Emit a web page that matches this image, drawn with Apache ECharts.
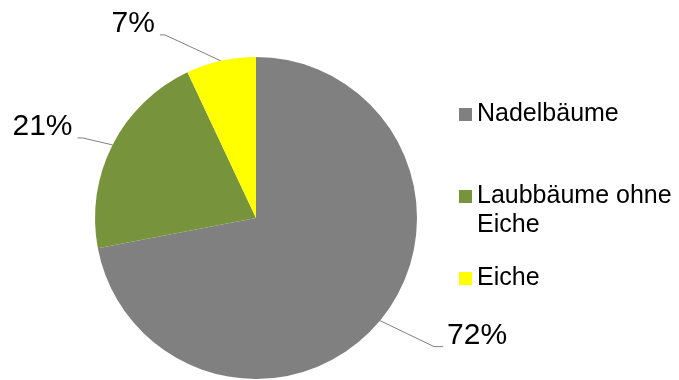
<!DOCTYPE html>
<html>
<head>
<meta charset="utf-8">
<script src="https://cdn.jsdelivr.net/npm/echarts@6/dist/echarts.min.js"></script>
<style>
  html, body { margin: 0; padding: 0; background: #fff; }
  #chart { width: 679px; height: 380px; }
</style>
</head>
<body>
<div id="chart"></div>
<script>
// Anteile der Baumarten (Prozent)
const categories = ['Nadelbäume', 'Laubbäume ohne\nEiche', 'Eiche'];
const shares = [72, 21, 7];
const colors = ['#808080', '#77933C', '#FFFF00'];

// Label placement relative to the slice's leader anchor: [dx to near text edge, dy to text centre]
const labelOffsets = [[67, 15], [-40, -18], [-66, -37]];

const chart = echarts.init(document.getElementById('chart'), null, { renderer: 'canvas' });

const pieData = categories.map((name, i) => ({
  name: name,
  value: shares[i],
  itemStyle: { color: colors[i] }
}));

chart.setOption({
  animation: false,
  backgroundColor: '#ffffff',
  legend: {
    orient: 'vertical',
    left: 454,
    top: 95,
    itemWidth: 13,
    itemHeight: 13,
    itemGap: 24,
    icon: 'rect',
    selectedMode: false,
    data: categories,
    // a leading blank line keeps the marker level with the first line of two-line entries
    formatter: name => (name.indexOf('\n') >= 0 ? '\n' + name : name),
    textStyle: {
      fontFamily: 'Liberation Sans, Arial, sans-serif',
      fontSize: 25,
      lineHeight: 29,
      color: '#000000'
    }
  },
  series: [{
    type: 'pie',
    center: [256, 218],
    radius: [0, 161],
    startAngle: 90,
    clockwise: true,
    avoidLabelOverlap: false,
    itemStyle: { borderWidth: 0 },
    label: {
      show: true,
      position: 'outside',
      formatter: '{c}%',
      fontFamily: 'Liberation Sans, Arial, sans-serif',
      fontSize: 30,
      color: '#000000'
    },
    labelLine: {
      show: true,
      length: 20,
      length2: 10,
      lineStyle: { color: '#808080', width: 1 }
    },
    labelLayout: function (params) {
      const off = labelOffsets[params.dataIndex];
      const pts = params.labelLinePoints;
      const anchor = pts[0];
      const toRight = off[0] > 0;
      const x = anchor[0] + off[0];
      const y = anchor[1] + off[1];
      // leader ends at the text's baseline level, with a short horizontal tail
      const endX = toRight ? x - 4 : x + 5;
      const endY = y + 11;
      const turnX = toRight ? endX - 9 : endX + 5;
      return {
        x: x,
        y: y,
        align: toRight ? 'left' : 'right',
        verticalAlign: 'middle',
        labelLinePoints: [[anchor[0], anchor[1]], [turnX, endY], [endX, endY]]
      };
    },
    emphasis: { disabled: true },
    data: pieData
  }]
});
</script>
</body>
</html>
